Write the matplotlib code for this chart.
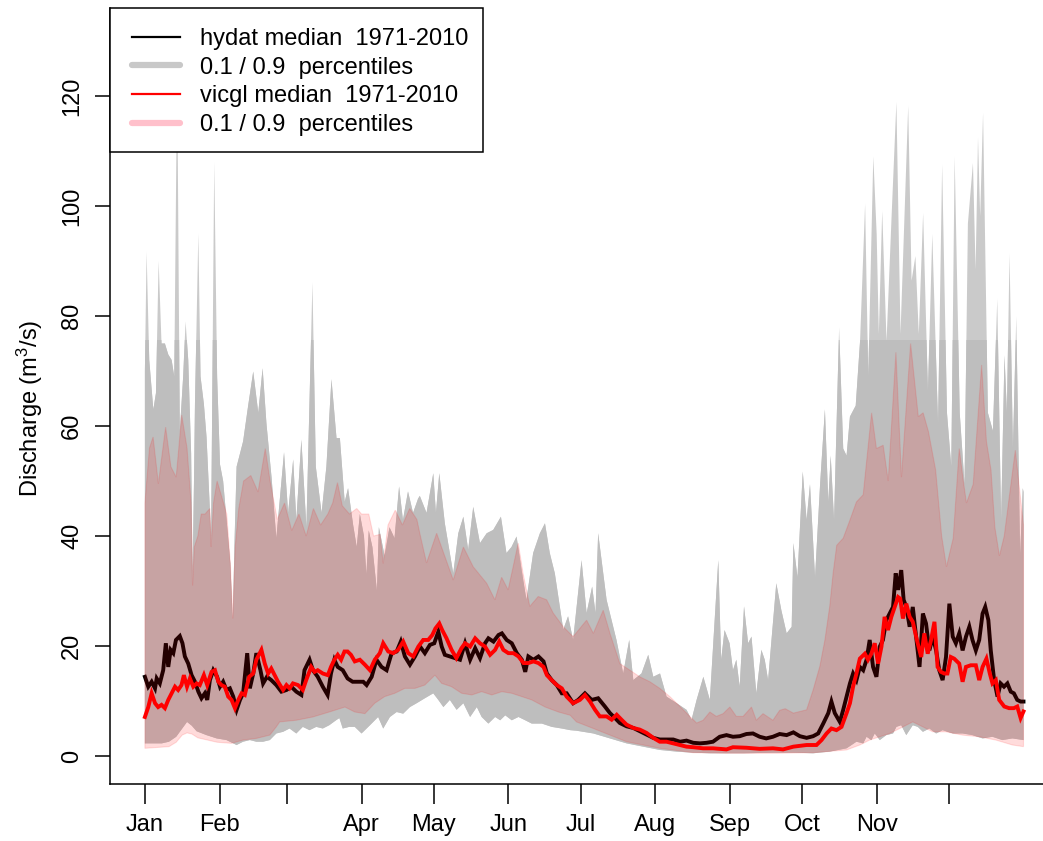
import numpy as np
import matplotlib
matplotlib.use("Agg")
import matplotlib.pyplot as plt
from matplotlib.lines import Line2D
from matplotlib.patches import Rectangle

plt.rcParams['font.family'] = ['Liberation Sans', 'DejaVu Sans']
plt.rcParams['mathtext.fontset'] = 'custom'
plt.rcParams['mathtext.rm'] = 'Liberation Sans'
plt.rcParams['mathtext.it'] = 'Liberation Sans:italic'

# ---------------- data (day of year, discharge m3/s) ----------------
month_ticks = [0, 31, 59, 90, 120, 151, 181, 212, 243, 273, 304, 334]
month_labels = ["Jan", "Feb", "", "Apr", "May", "Jun", "Jul", "Aug", "Sep", "Oct", "Nov", ""]
y_ticks = [0, 20, 40, 60, 80, 100, 120]

hyd_med_day = [0, 1.4, 2.8, 4.2, 4.9, 6.2, 7.6, 8.7, 9.7, 10.7, 11.8, 12.9, 14.5, 15.6, 16.6, 18, 19.4, 20.8, 22.2, 23.5, 24.9, 25.9, 27, 28.4, 30, 31.2, 32.5, 33.9, 35.3, 36.7, 38.1, 39.5, 40.8, 42.5, 43.6, 45, 46.3, 48, 49.1, 50.7, 52.5, 54.6, 56.7, 58.8, 60.8, 62.9, 65, 66.3, 68.4, 69.8, 71.8, 73.9, 75.9, 77.3, 78.7, 80.1, 82.2, 84.2, 86.3, 88, 90.7, 92.1, 94.2, 96.2, 98.3, 100.4, 102.5, 104.6, 106.3, 108, 110.1, 112.2, 114.3, 116.3, 118.4, 120.2, 121.9, 123.3, 124.6, 126.7, 128.8, 130.9, 133, 135.1, 137.2, 139.2, 141.3, 142.7, 144.8, 146.9, 148.3, 150.3, 152.4, 154.5, 156.6, 158, 159.3, 161.4, 163.5, 165.6, 167, 169, 171.1, 173.2, 175.2, 177.9, 180, 182.8, 185.6, 188.3, 191.1, 193.2, 195.3, 197.3, 200.1, 202.9, 205.6, 208.4, 211.2, 213.9, 216.7, 219.5, 222.3, 225, 227.8, 230.6, 233.3, 236, 238.8, 241.6, 244.3, 247.1, 249.9, 252.6, 255.4, 258.1, 260.9, 263.7, 266.6, 269.4, 272.1, 274.9, 277.6, 279.7, 281.8, 283.9, 285.2, 286.6, 288.7, 290.1, 291.5, 292.9, 294.2, 295.6, 297, 298.4, 299.8, 301.1, 302.5, 303.9, 305.3, 306.6, 308, 309.4, 310.8, 311.9, 312.9, 314.2, 315.2, 316.3, 317.7, 319, 320.4, 321.8, 323.2, 324.5, 325.9, 327.3, 328.7, 330, 331.4, 332.8, 334.2, 335.6, 336.9, 338.3, 339.7, 341.1, 342.5, 343.8, 345.2, 346.6, 348, 349.1, 350.4, 351.4, 352.8, 354.2, 355.5, 356.9, 358.3, 359.7, 361, 362.4, 363.8, 365]
hyd_med_val = [14.4, 12.6, 13.5, 12.3, 14.1, 13.2, 15.6, 20.5, 16.2, 19.3, 18.7, 21.1, 21.8, 20.5, 18.1, 16.8, 14.7, 13.5, 11.7, 10.5, 11.4, 10.2, 13.8, 15.6, 14.4, 12.6, 13.5, 12, 12.3, 10.8, 8.4, 10.2, 11.4, 18.7, 12.3, 15, 18.7, 15.6, 13.2, 14.4, 13.8, 12.9, 11.7, 12, 12.6, 11.7, 11.1, 15.6, 17.5, 15.6, 14.4, 12.6, 11.1, 15, 17.5, 16.2, 15.6, 14.1, 13.5, 13.5, 13.5, 12.9, 14.4, 17.5, 16.2, 15.6, 18.7, 19, 20.8, 18.1, 16.6, 18.1, 19.9, 18.7, 20.2, 20.5, 22.6, 19.9, 18.4, 18.1, 17.8, 17.5, 20.5, 17.5, 19.6, 17.8, 20.5, 21.4, 20.8, 22, 22.3, 21.1, 20.5, 18.7, 17.5, 15.3, 18.1, 17.5, 18.1, 17.2, 15, 13.8, 12.9, 11.4, 11.4, 9.6, 10.2, 11.4, 10.2, 10.5, 9, 7.8, 6.9, 6, 5.4, 5.1, 4.5, 3.9, 3.3, 3, 3, 3, 2.6, 2.8, 2.4, 2.3, 2.4, 2.6, 3.5, 3.8, 3.5, 3.6, 4, 4.1, 3.5, 3.2, 3.5, 4, 3.8, 4.3, 3.6, 3.3, 3.6, 4.1, 5.9, 7.8, 9.9, 7.8, 6.2, 8.4, 10.8, 13.2, 15, 13.8, 16.2, 15.6, 17.5, 21.1, 16.2, 14.4, 19.9, 21.1, 24.7, 25.9, 27.1, 33.2, 30.2, 33.8, 28.4, 27.1, 23.5, 27.1, 21.7, 16.2, 25.9, 24.1, 19.2, 21.7, 19.2, 15.6, 13.8, 18, 27.7, 21.7, 20.5, 22.3, 19.2, 21.7, 23.5, 21.1, 19.2, 21.1, 25.9, 27.1, 24.7, 19.2, 13.8, 10.8, 13.2, 12.6, 13.2, 11.7, 11.4, 10.2, 9.9, 9.9]

hyd_hi_day = [0, 0.7, 1.8, 3.5, 4.6, 5.7, 6.9, 8.3, 9.7, 11.1, 12.2, 13.4, 14.5, 15.9, 16.9, 18, 19.2, 19.8, 20.4, 20.8, 22.2, 23.1, 24.5, 25.6, 27.5, 28.8, 30, 31.2, 32.5, 33.5, 35.5, 36.5, 37.3, 38.1, 40.8, 42.9, 45, 47.1, 48.9, 50.5, 52.6, 54.6, 57.8, 59.5, 61.6, 62.9, 65, 67.1, 69.6, 71, 73.4, 75.4, 77.5, 79.6, 81, 83, 84.4, 86.5, 88, 89.3, 91, 92, 93, 94.5, 96.4, 97.2, 99.6, 101.6, 103.7, 105.6, 107.2, 109.3, 111.4, 113.5, 114.2, 117, 119.8, 120.9, 122.3, 124.6, 128.1, 130.2, 132.3, 134.3, 136.4, 139.2, 142, 144.7, 147.9, 150.2, 152.3, 154.4, 156.5, 158.5, 161.3, 164.1, 166.2, 168.2, 170.3, 173.8, 175.8, 177.9, 181.4, 183.5, 185.8, 187.2, 188.3, 191.8, 195.9, 198.7, 201.2, 202.9, 206.3, 209.1, 211.2, 214, 216.7, 220.9, 225, 227.1, 229.2, 232, 234.7, 238.2, 239.4, 240.8, 242.9, 244.3, 245.7, 247.1, 248.9, 250.6, 252, 254, 256.1, 257.5, 258.9, 262.3, 264.4, 266.6, 268.7, 269.4, 271.1, 273.3, 274.9, 276.3, 278.4, 280.5, 282.5, 283.9, 284.9, 286.3, 288.4, 290.1, 291.5, 292.9, 295.3, 297.1, 299.2, 300.5, 302.6, 304, 304.9, 306.3, 308.1, 310.2, 312.2, 313.9, 317.1, 318.5, 320.1, 321.5, 323.3, 325.3, 327.1, 329.5, 331.2, 333.2, 335, 336.4, 338.5, 340.5, 341.9, 344, 345.1, 346.1, 347, 348.2, 350.2, 352.3, 354.1, 355.7, 357.1, 358.1, 359.2, 360.6, 362, 363.6, 364.7, 365]
hyd_hi_val = [70, 91.7, 72, 63, 66, 90, 75, 75, 73, 72, 69, 125, 59, 69, 79, 72, 55, 33, 50, 64, 95, 69, 64, 58, 40, 108, 69, 53, 50, 45, 35, 24.5, 40, 52.6, 57.2, 63.7, 69.9, 62.4, 70.5, 60.4, 50.7, 39.6, 55.2, 44.2, 53.9, 42.9, 57.5, 41.6, 86.1, 52.6, 44.2, 52.6, 68.5, 57.8, 57.8, 46.2, 48.7, 42, 38, 44, 40, 33, 41, 38, 30, 41.6, 36.4, 41.6, 39.6, 49, 42.9, 48.1, 44.2, 46.8, 47.3, 44.2, 51.4, 44.2, 51.4, 42.3, 33.2, 40.5, 43.5, 37.5, 45.3, 38.7, 40.5, 41.1, 43.5, 36.9, 38, 39.9, 33.8, 28.4, 36.9, 40.5, 42.3, 36.9, 33.2, 23, 25.4, 21.1, 35.6, 26, 30.8, 26, 40.5, 28.4, 21.1, 15, 21.1, 13.8, 15, 18.4, 14.4, 15, 10.8, 9.6, 8.4, 6.6, 10.2, 14.4, 10.2, 35.6, 17.5, 22.9, 20.5, 15.6, 17.5, 12.6, 27.2, 20.5, 21.7, 11.4, 19.3, 17.5, 13.8, 31.4, 26.5, 22.3, 23.5, 38.7, 32.5, 51.7, 42.9, 49.4, 32.5, 49.4, 63, 46.2, 54.6, 42.9, 77.9, 55.9, 54.6, 61.7, 63.7, 75.4, 100.4, 69, 109, 94.9, 76.7, 99.1, 75.4, 98.1, 118.9, 76.7, 118.2, 86.4, 90.9, 76.7, 98.7, 66.3, 94.9, 60.4, 107.5, 62.4, 52.6, 109, 62.4, 49.4, 96.8, 107.8, 88.4, 112.4, 98.1, 116.9, 62.4, 59.1, 83.1, 42.9, 72.8, 62.4, 91.3, 55.9, 79.9, 36.4, 48.7, 48]

hyd_lo_day = [0, 7, 10, 13, 15.5, 17.5, 19.5, 21.5, 25.6, 29.8, 33.9, 38.1, 40.8, 43.6, 46.3, 49.1, 51.9, 54.6, 57.4, 60.1, 62.9, 65.6, 68.4, 71.2, 73.9, 76.6, 79.4, 80.8, 82.2, 84.9, 87.2, 90, 93.5, 96.9, 99, 101.8, 104.6, 107.3, 110.1, 112.9, 116.3, 119.8, 121.9, 124, 126.7, 129.5, 132.3, 135.1, 137.9, 139.9, 142.7, 145.5, 147.6, 149.7, 152.4, 155.2, 158, 160.7, 164.9, 169, 173.2, 176.7, 179.3, 186.3, 193.2, 200.1, 207, 213.9, 220.9, 227.8, 234.7, 248.5, 262.3, 270, 277.6, 284.5, 291.5, 295.6, 298.4, 299.8, 301.8, 303.2, 305.3, 308, 310.8, 312.2, 314.2, 316.3, 319, 321.1, 323.2, 325.9, 328.7, 331.4, 335.6, 339.7, 343.8, 348, 352.1, 356.2, 360.4, 365]
hyd_lo_val = [2.3, 2.3, 2.6, 3.5, 5.0, 6.2, 5.5, 4.5, 3.8, 3.2, 2.9, 2.0, 2.6, 2.9, 2.6, 2.6, 2.9, 4.1, 4.4, 5, 4.1, 5.3, 4.7, 5.3, 5, 5.6, 6.5, 6.9, 5, 5.3, 5.3, 4.1, 5.6, 7.1, 5, 7.1, 8, 7.7, 8.9, 9.6, 10.5, 11.4, 10.2, 8.9, 10.2, 8.4, 9.6, 7.1, 8.9, 7.1, 5.9, 7.1, 6.5, 7.4, 6.5, 7.1, 6.5, 5.9, 5.9, 5.3, 5, 4.7, 4.6, 4.1, 3.2, 2.3, 1.7, 1.1, 0.8, 0.6, 0.5, 0.5, 0.6, 0.6, 0.5, 0.8, 1.4, 2.6, 2.3, 3.5, 2.9, 4.1, 2.9, 3.8, 4.1, 5.3, 5.6, 3.8, 5.6, 5.3, 4.4, 5, 4.1, 4.7, 4.1, 4.1, 3.8, 3.2, 3.5, 2.9, 3.2, 2.9]

vic_med_day = [0, 1.4, 2.8, 4.2, 5.5, 6.9, 8.3, 9.7, 11.1, 12.5, 13.8, 15.2, 16.2, 17.5, 18.7, 20.1, 21.5, 22.8, 24.5, 25.9, 27.7, 29.1, 30.5, 31.8, 33.2, 34.6, 36, 37.4, 38.8, 40.2, 41.5, 43.3, 45, 46.3, 48.4, 49.8, 51.2, 52.5, 53.9, 55.3, 57.4, 58.8, 60.1, 61.5, 63.6, 65.6, 67, 69.1, 70.5, 71.8, 73.9, 76, 77.3, 78.7, 80.1, 81.5, 82.9, 84.2, 85.6, 87.2, 89.3, 91.4, 93.5, 95.5, 97.6, 99, 101.1, 103.2, 105.2, 107.3, 109.4, 111.5, 113.6, 115.6, 117.7, 119.4, 120.7, 122.3, 123.5, 125.3, 127.4, 129.4, 131.5, 133, 135.1, 137.2, 139.2, 141.3, 143.4, 145.5, 147.2, 148.9, 151, 153.1, 155.2, 157.3, 159.3, 161.4, 163.5, 165.6, 167, 169, 171.1, 173.2, 175.2, 177.9, 180.7, 182.8, 184.9, 187, 189, 191.8, 193.9, 196, 198, 200.1, 202.9, 205.6, 208.4, 211.2, 213.9, 216.7, 219.5, 222.3, 225, 227.8, 231.9, 236, 241.6, 244.3, 249.9, 255.4, 260.9, 265.1, 269.4, 274.9, 279, 281.1, 283.2, 285.2, 287.3, 289.4, 291.5, 292.9, 294.2, 295.6, 297, 299.1, 300.4, 301.8, 303.2, 304.6, 306, 307.3, 308.7, 310.1, 311.5, 312.9, 313.8, 314.9, 316.3, 317.7, 319, 320.7, 322.5, 323.8, 325.2, 326.6, 328, 329.3, 330.7, 332.1, 333.4, 334.8, 336.2, 338.3, 339.7, 341.1, 343.1, 345.2, 346.6, 348, 349.6, 351, 352.1, 353.5, 354.9, 357, 359, 361, 362.4, 363.8, 365]
vic_med_val = [7.1, 8.9, 11.4, 9.6, 8.9, 9.3, 8.7, 10.2, 11.4, 12.6, 12, 12.9, 14.7, 12.6, 14.1, 12.6, 13.2, 12.9, 14.7, 12.9, 15.3, 15.6, 13.5, 12.9, 12.6, 10.8, 10.2, 8.7, 10.2, 11.4, 11.1, 14.4, 15, 17.5, 19.3, 16.8, 15, 15.9, 14.7, 13.5, 12, 12.9, 12.3, 13.2, 12.9, 12, 13.8, 16.2, 15.3, 15.6, 15, 14.7, 16.2, 17.5, 18.4, 17.5, 19, 19, 18.4, 17.2, 17.5, 16.6, 15.6, 17.5, 18.7, 20.5, 19, 18.7, 19.3, 20.8, 18.7, 18.1, 19.9, 21.1, 21.1, 22, 23.2, 24.1, 22.9, 21.4, 19.3, 17.8, 19.6, 20.5, 19.9, 21.4, 20.5, 19.9, 18.4, 19.3, 20.8, 19.3, 18.7, 18.7, 18.1, 16.9, 16.9, 17.2, 16.9, 16.2, 14.7, 13.8, 12.9, 12.3, 10.8, 9.6, 10.2, 11.1, 9.9, 8.4, 7.2, 7.2, 6.6, 7.5, 6.6, 5.7, 5.1, 4.8, 4.2, 3.3, 2.6, 2.6, 2.3, 2, 1.7, 1.6, 1.4, 1.4, 1.2, 1.6, 1.5, 1.3, 1.4, 1.2, 1.7, 2, 2, 2.9, 4.1, 5, 4.7, 5.3, 7.8, 9.6, 12.6, 15, 17.7, 18.6, 17.5, 18.6, 20.5, 16.8, 19.9, 25.3, 22.9, 25.3, 27.1, 28.9, 28.6, 25, 27.7, 25.3, 24.4, 21.1, 18, 22.3, 18.6, 21.1, 24.4, 16.2, 15.3, 15, 15, 18, 17.7, 16.8, 13.5, 16.2, 16.5, 16.5, 13.8, 16.2, 17.7, 15, 13.2, 13.8, 10.2, 9, 8.7, 8.7, 9, 6.9, 8.1]

vic_hi_day = [0, 1.9, 3.4, 5.6, 8.6, 10.8, 13, 15.3, 17.5, 19.2, 19.8, 20.5, 22, 23.4, 25, 27, 27.5, 28.5, 30, 32, 34, 35.5, 36.5, 37.5, 39, 41, 44, 47, 50, 52, 55, 58, 61, 64, 67, 70, 73, 76, 78, 80, 82, 85, 88, 90, 93, 95, 97.7, 99, 101, 104, 107, 110, 113, 114.2, 117, 121.2, 124.6, 128.1, 132.3, 136.4, 142, 145.4, 148.2, 150.9, 155.1, 157.1, 159.9, 163.4, 166.9, 169.6, 173.8, 177.9, 183.5, 186.3, 190.4, 193.2, 197.3, 201.5, 205.6, 209.8, 213.9, 218.1, 222.3, 226.4, 229.2, 231.9, 234.7, 237.4, 240.2, 243, 245.7, 248.5, 252, 254, 256.8, 260.9, 263.7, 266, 269.4, 274.9, 277.6, 280.4, 282.5, 284.5, 285.9, 287.4, 290.1, 292.9, 295.6, 298.4, 301.9, 303.9, 306.7, 308.8, 312, 314.3, 318.1, 321.3, 323.3, 325.5, 328.5, 331, 333, 335.8, 338.3, 340, 341.3, 344.1, 347.6, 349.6, 351.5, 353.1, 355, 357, 361.6, 363.5, 365]
vic_hi_val = [46, 56, 58, 49.5, 59.8, 52.6, 50.7, 62, 56, 46, 31, 38, 40, 44, 44, 45, 38, 46, 50, 47, 44, 35, 25, 38, 45, 50, 51, 48, 55.9, 50, 43, 46, 41, 44, 40, 45, 42, 44, 46, 49.7, 45.5, 44, 45, 44, 44, 40, 40.3, 35, 42, 44.7, 42, 45, 43, 40.5, 35.1, 40.5, 36.3, 32, 38, 34.4, 31.4, 28.4, 32.5, 30.2, 38.7, 33.2, 27.2, 29, 28.4, 26, 23.5, 21.7, 24.7, 22.3, 26.5, 22.3, 16.8, 15.6, 14.4, 13.5, 12.3, 10.8, 9, 7.2, 6, 6.5, 8, 7.2, 7.7, 8.9, 7.2, 7.2, 8.9, 6.5, 7.7, 6.5, 8.3, 8.6, 7.8, 8.4, 12, 16.3, 21.1, 27.2, 33.2, 38.3, 39.6, 42.9, 46.2, 47.5, 62.4, 55.9, 56.5, 50, 73.4, 50.7, 75, 61.7, 62.4, 59, 52, 40, 34.4, 39.6, 55.9, 50, 46, 49.4, 71.1, 57.2, 52, 41.6, 36.4, 40, 55.6, 48, 42]

vic_lo_day = [0, 10, 13, 15.5, 17.5, 19.5, 22, 25, 30, 36, 40.8, 46.3, 51.9, 54.6, 56, 62.9, 69.8, 76.6, 83.1, 87.2, 91.4, 95.5, 99.6, 103.8, 108, 112.2, 116.3, 120.5, 123.3, 127.4, 131.6, 135.8, 139.9, 144.1, 148.3, 152.4, 156.6, 160.7, 166.3, 171.8, 176.7, 179.3, 186.3, 193.2, 200.1, 207, 213.9, 220.9, 227.8, 241.6, 262.3, 277.6, 291.5, 297, 301.1, 305.3, 309.4, 313.6, 319, 323.2, 327.3, 332.8, 339.7, 346.6, 353.5, 360.4, 365]
vic_lo_val = [1.4, 1.7, 2.5, 3.8, 4.2, 4.0, 3.3, 3.0, 2.5, 2.3, 2.9, 3.2, 3.8, 5.3, 6.2, 6.5, 7.1, 8, 8.9, 8, 7.7, 9.6, 10.8, 11.4, 12.3, 12.3, 12.9, 14.7, 13.2, 12.6, 11.4, 11.1, 11.7, 11.1, 11.7, 11.4, 10.8, 10.2, 8.9, 8, 7.4, 6.2, 5, 3.8, 2.6, 2, 1.4, 1, 0.6, 0.5, 0.5, 0.6, 1.1, 2, 2.9, 3.5, 4.1, 5, 6.2, 5.3, 4.4, 4.4, 3.8, 3.5, 2.9, 2, 1.7]

gray_split_level = 75.6  # level where the grey band rendering changes tone

# ---------------- figure ----------------
W, H = 1043, 841
fig = plt.figure(figsize=(W / 100, H / 100), dpi=100)
ax_l, ax_r, ax_t, ax_b = 110, 1043, 8, 784
ax = fig.add_axes([ax_l / W, (H - ax_b) / H, (ax_r - ax_l) / W, (ax_b - ax_t) / H])
ax.set_xlim(-14.5, 373.1)
ax.set_ylim(-5.09, 136.0)

grey_x = np.concatenate([hyd_hi_day, hyd_lo_day[::-1]])
grey_y = np.concatenate([hyd_hi_val, hyd_lo_val[::-1]])
ax.fill(grey_x, grey_y, color="#CACACA", lw=0, zorder=1)
lower = ax.fill(grey_x, grey_y, color="#BEBEBE", lw=0, zorder=1.1)[0]
clip = Rectangle((-20, -10), 420, gray_split_level + 10, transform=ax.transData)
lower.set_clip_path(clip)

ax.plot(hyd_med_day, hyd_med_val, color="black", lw=2.8, zorder=2, solid_joinstyle="miter")

pink_x = np.concatenate([vic_hi_day, vic_lo_day[::-1]])
pink_y = np.concatenate([vic_hi_val, vic_lo_val[::-1]])
ax.fill(pink_x, pink_y, facecolor=(1, 0, 0, 0.14), edgecolor=(1, 0, 0, 0.12), lw=0.8, zorder=3)

ax.plot(vic_med_day, vic_med_val, color="#FF0000", lw=2.8, zorder=4, solid_joinstyle="miter")

# axes styling (R bty="l")
for s in ["top", "right"]:
    ax.spines[s].set_visible(False)
for s in ["left", "bottom"]:
    ax.spines[s].set_linewidth(1.1)
ax.set_xticks(month_ticks)
ax.set_xticklabels(month_labels, fontsize=17)
ax.set_yticks(y_ticks)
ax.set_yticklabels([str(v) for v in y_ticks], fontsize=17, rotation=90, va="center")
ax.tick_params(axis="x", length=14.4, width=1.1, pad=7)
ax.tick_params(axis="y", length=10.8, width=1.1, pad=8.5)

fig.text(30 / W, 1 - 408 / H, "Discharge (m$^3$/s)", rotation=90, ha="center", va="center", fontsize=17)

# legend box (drawn explicitly so its size matches the R legend)
leg_right, leg_bottom = 483, 152
box = Rectangle((0, (ax_b - leg_bottom) / (ax_b - ax_t)), (leg_right - ax_l) / (ax_r - ax_l),
                1 - (ax_b - leg_bottom) / (ax_b - ax_t), transform=ax.transAxes,
                facecolor="white", edgecolor="black", lw=1.1, zorder=9, clip_on=False)
ax.add_patch(box)

handles = [
    Line2D([], [], color="black", lw=1.6),
    Line2D([], [], color="#C8C8C8", lw=4.5, solid_capstyle="round"),
    Line2D([], [], color="#FF0000", lw=1.6),
    Line2D([], [], color="#FFC0CB", lw=4.5, solid_capstyle="round"),
]
labels = ["hydat median  1971-2010", "0.1 / 0.9  percentiles",
          "vicgl median  1971-2010", "0.1 / 0.9  percentiles"]
leg = ax.legend(handles, labels, loc="upper left", bbox_to_anchor=(0.002, 1), borderaxespad=0,
                fontsize=17.0, frameon=False,
                handlelength=2.05, handletextpad=0.85, labelspacing=0.28, borderpad=0.85)
leg.set_zorder(10)

fig.savefig("out.png", dpi=100)
